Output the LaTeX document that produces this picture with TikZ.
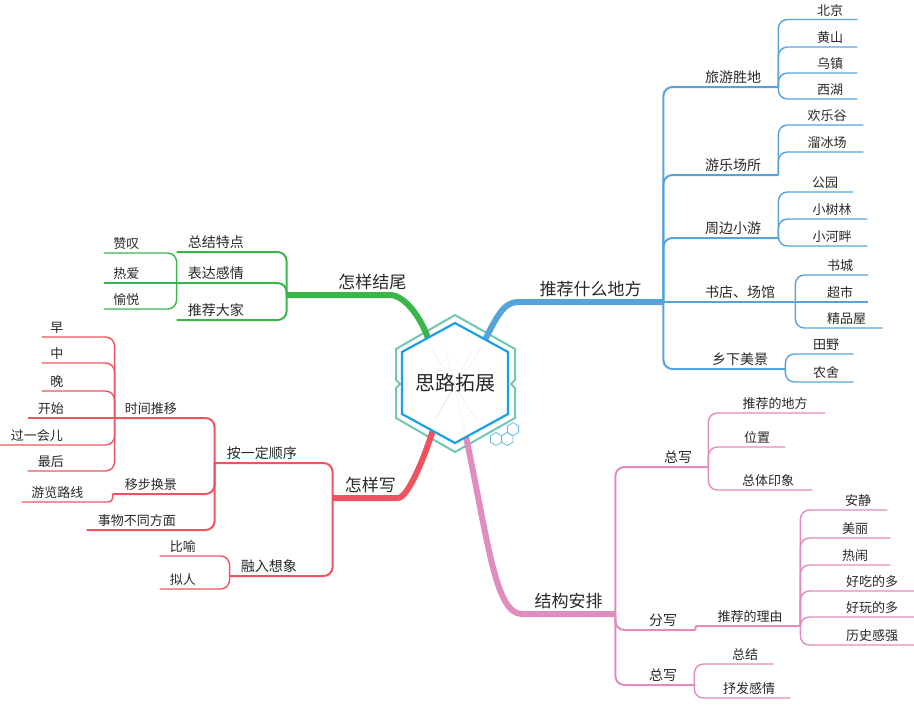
\documentclass[tikz,border=0pt]{standalone}
\usepackage{fontspec}
\setmainfont{Noto Sans CJK SC}
\usepackage{tikz}
\definecolor{mapblue}{RGB}{84,164,219}
\definecolor{mapgreen}{RGB}{57,181,74}
\definecolor{mapred}{RGB}{238,84,96}
\definecolor{mappink}{RGB}{225,140,190}
\definecolor{hexteal}{RGB}{112,200,178}
\definecolor{hexblue}{RGB}{28,160,226}
\definecolor{hexlight}{RGB}{110,185,235}
\definecolor{inkgray}{RGB}{40,40,40}
\newcommand{\leaffont}{\fontsize{13}{15}\selectfont}
\newcommand{\twigfont}{\fontsize{14}{16}\selectfont}
\newcommand{\trunkfont}{\fontsize{17}{19}\selectfont}
\newcommand{\rootfont}{\fontsize{20}{22}\selectfont}

\begin{document}
\begin{tikzpicture}[x=1pt,y=-1pt,
    rn/.style={anchor=south west,inner xsep=0pt,inner ysep=3pt,font=\leaffont,text=inkgray},
    ln/.style={anchor=south east,inner xsep=0pt,inner ysep=3pt,font=\leaffont,text=inkgray},
    pr/.style={execute at begin node={\hspace*{#1}}},
    pl/.style={execute at end node={\hspace*{#1}}},
    trunk/.style={line width=6pt},
    twig/.style={line width=2pt,rounded corners=9pt},
    leaf/.style={line width=1.4pt,rounded corners=9pt}]

    \useasboundingbox (0,0) rectangle (914,710);

    % Recommend places (blue, top right)
    \node[rn,minimum width=145pt,font=\trunkfont,inner ysep=5pt] (bx) at (518,302) {推荐什么地方};
    \node[rn,minimum width=115pt,pr=25pt,font=\twigfont] (ly) at (663,87) {旅游胜地};
    \node[rn,minimum width=115pt,pr=25pt,font=\twigfont] (yl) at (663,175) {游乐场所};
    \node[rn,minimum width=115pt,pr=25pt,font=\twigfont] (zb) at (663,238) {周边小游};
    \node[rn,minimum width=132pt,pr=22pt,font=\twigfont] (sd) at (663,302) {书店、场馆};
    \node[rn,minimum width=122pt,pr=32pt,font=\twigfont] (xx) at (663,369) {乡下美景};
    \node[rn,minimum width=79pt,pr=25pt] (bj) at (778,19.5) {北京};
    \node[rn,minimum width=79pt,pr=25pt] (hsh) at (778,47) {黄山};
    \node[rn,minimum width=79pt,pr=25pt] (wz) at (778,73) {乌镇};
    \node[rn,minimum width=79pt,pr=25pt] (xh) at (778,99) {西湖};
    \node[rn,minimum width=85pt,pr=13pt] (hlg) at (778,125) {欢乐谷};
    \node[rn,minimum width=85pt,pr=13pt] (lbc) at (778,152) {溜冰场};
    \node[rn,minimum width=75pt,pr=19pt] (gy) at (778,192) {公园};
    \node[rn,minimum width=89pt,pr=19pt] (xsl) at (778,219) {小树林};
    \node[rn,minimum width=89pt,pr=19pt] (xhp) at (778,246) {小河畔};
    \node[rn,minimum width=73pt,pr=17pt] (shc) at (795,275) {书城};
    \node[rn,minimum width=73pt,pr=17pt] (cs) at (795,302) {超市};
    \node[rn,minimum width=87pt,pr=16pt] (jpw) at (795,328) {精品屋};
    \node[rn,minimum width=68pt,pr=14pt] (ty) at (785,354) {田野};
    \node[rn,minimum width=68pt,pr=14pt] (ns) at (785,382) {农舍};

    % How to end (green, top left)
    \node[ln,minimum width=103pt,font=\trunkfont,inner ysep=5pt] (gx) at (390,295) {\rlap{怎样结尾}};
    \node[ln,minimum width=110pt,pl=32pt,font=\twigfont] (zj) at (287,252) {总结特点};
    \node[ln,minimum width=110pt,pl=32pt,font=\twigfont] (bd) at (287,283) {表达感情};
    \node[ln,minimum width=110pt,pl=32pt,font=\twigfont] (tj) at (287,320) {推荐大家};
    \node[ln,minimum width=73pt,pl=28pt] (zt) at (177,253) {赞叹};
    \node[ln,minimum width=73pt,pl=28pt] (ra) at (177,283) {热爱};
    \node[ln,minimum width=73pt,pl=28pt] (yy) at (177,309) {愉悦};

    % How to write (red, bottom left)
    \node[ln,minimum width=65pt,pr=10pt,font=\trunkfont,inner ysep=5pt] (w) at (398,498) {怎样写};
    \node[ln,minimum width=118pt,pl=24pt,font=\twigfont] (ax) at (333,463) {按一定顺序};
    \node[ln,minimum width=103pt,pl=25pt,font=\twigfont] (rr) at (333,576) {融入想象};
    \node[ln,minimum width=100pt,pl=28pt] (sj) at (215,418) {时间推移};
    \node[ln,minimum width=102pt,pl=26pt] (yb) at (215,494) {移步换景};
    \node[ln,minimum width=128pt,pl=28pt] (swb) at (215,530) {事物不同方面};
    \node[ln,minimum width=73pt,pl=43pt] (zao) at (115,337) {早};
    \node[ln,minimum width=73pt,pl=43pt] (zh) at (115,363) {中};
    \node[ln,minimum width=73pt,pl=43pt] (wan) at (115,391) {晚};
    \node[ln,minimum width=87pt,pl=41pt] (ks) at (115,418) {开始};
    \node[ln,minimum width=115pt,pl=41pt] (gyh) at (115,445) {过一会儿};
    \node[ln,minimum width=87pt,pl=41pt] (zhh) at (115,471) {最后};
    \node[ln,minimum width=91pt,pl=20pt] (ylx) at (113,502) {游览路线};
    \node[ln,minimum width=70pt,pl=24pt] (by) at (230,556) {比喻};
    \node[ln,minimum width=70pt,pl=24pt] (nr) at (230,589) {拟人};

    % Structure (pink, bottom right)
    \node[rn,minimum width=93pt,font=\trunkfont,inner ysep=5pt] (s) at (522,614) {结构安排};
    \node[rn,minimum width=93pt,pr=33pt,font=\twigfont] (zx) at (615,467) {总写};
    \node[rn,minimum width=80pt,pr=16pt,font=\twigfont] (fx) at (615,630) {分写};
    \node[rn,minimum width=79pt,pr=17pt,font=\twigfont] (zxb) at (615,685) {总写};
    \node[rn,minimum width=117pt,pr=17pt] (tjd) at (708,413) {推荐的地方};
    \node[rn,minimum width=77pt,pr=21pt] (wzh) at (708,447) {位置};
    \node[rn,minimum width=104pt,pr=16pt] (ztyx) at (708,490) {总体印象};
    \node[rn,minimum width=105pt,pr=5pt] (tjl) at (695,626) {推荐的理由};
    \node[rn,minimum width=87pt,pr=29pt] (aj) at (800,510) {安静};
    \node[rn,minimum width=90pt,pr=20pt] (ml) at (800,538) {美丽};
    \node[rn,minimum width=90pt,pr=20pt] (rnao) at (800,565) {热闹};
    \node[rn,minimum width=114pt,pr=30pt] (hcd) at (800,591) {好吃的多};
    \node[rn,minimum width=114pt,pr=30pt] (hwd) at (800,617) {好玩的多};
    \node[rn,minimum width=114pt,pr=30pt] (lsg) at (800,645) {历史感强};
    \node[rn,minimum width=79pt,pr=23pt] (zjb) at (694,664) {总结};
    \node[rn,minimum width=96pt,pr=14pt] (sfgq) at (694,698) {抒发感情};

    % Branch lines
    \foreach \n in {ly,yl,zb,xx} \draw[mapblue,twig] (bx.south east) |- (\n.south east);
    \draw[mapblue,twig] (bx.south east) -- (sd.south east);
    \foreach \n in {bj,hsh,wz,xh} \draw[mapblue,leaf] (ly.south east) |- (\n.south east);
    \foreach \n in {hlg,lbc} \draw[mapblue,leaf] (yl.south east) |- (\n.south east);
    \foreach \n in {gy,xsl,xhp} \draw[mapblue,leaf] (zb.south east) |- (\n.south east);
    \foreach \n in {shc,jpw} \draw[mapblue,leaf] (sd.south east) |- (\n.south east);
    \draw[mapblue,leaf] (sd.south east) -- (cs.south east);
    \foreach \n in {ty,ns} \draw[mapblue,leaf] (xx.south east) |- (\n.south east);

    \foreach \n in {zj,bd,tj} \draw[mapgreen,twig] (gx.south west) |- (\n.south west);
    \foreach \n in {zt,yy} \draw[mapgreen,leaf] (bd.south west) |- (\n.south west);
    \draw[mapgreen,leaf] (bd.south west) -- (ra.south west);

    \foreach \n in {ax,rr} \draw[mapred,twig] (w.south west) |- (\n.south west);
    \foreach \n in {sj,yb,swb} \draw[mapred,twig] (ax.south west) |- (\n.south west);
    \foreach \n in {zao,zh,wan,gyh,zhh} \draw[mapred,leaf] (sj.south west) |- (\n.south west);
    \draw[mapred,leaf] (sj.south west) -- (ks.south west);
    \draw[mapred,leaf,rounded corners=4pt] (yb.south west) |- (ylx.south west);
    \foreach \n in {by,nr} \draw[mapred,leaf] (rr.south west) |- (\n.south west);

    \foreach \n in {zx,fx,zxb} \draw[mappink,twig] (s.south east) |- (\n.south east);
    \foreach \n in {tjd,wzh,ztyx} \draw[mappink,leaf] (zx.south east) |- (\n.south east);
    \draw[mappink,twig,rounded corners=2pt] (fx.south east) |- (tjl.south east);
    \foreach \n in {aj,ml,rnao,hcd,hwd,lsg} \draw[mappink,leaf] (tjl.south east) |- (\n.south east);
    \foreach \n in {zjb,sfgq} \draw[mappink,leaf] (zxb.south east) |- (\n.south east);

    % Central hexagon
    \draw[hexteal,line width=2pt] (455,315) -- (515,349) -- (515,380) -- (511,384) -- (515,388) -- (515,418) -- (455,452) -- (396,418) -- (396,388) -- (400,384) -- (396,380) -- (396,349) -- cycle;

    \coordinate (hg) at (431,348);
    \coordinate (hb) at (482,346);
    \coordinate (hr) at (436,420);
    \coordinate (hp) at (465,432);
    \draw[mapgreen,trunk] (hg) .. controls (424,320) and (405,295) .. (gx.south east) -- (gx.south west);
    \draw[mapblue,trunk] (hb) .. controls (496,318) and (503,302) .. (bx.south west) -- (bx.south east);
    \draw[mapred,trunk] (hr) .. controls (426,455) and (408,498) .. (w.south east) -- (w.south west);
    \draw[mappink,trunk] (hp) .. controls (488,540) and (495,614) .. (s.south west) -- (s.south east);

    \filldraw[fill=white,draw=hexblue,line width=2.2pt] (455,323) -- (508,352) -- (508,414) -- (455,443) -- (402,414) -- (402,352) -- cycle;
    \draw[mapgreen,opacity=0.2,line width=0.4pt] (hg) -- (476,420);
    \draw[mapblue,opacity=0.2,line width=0.4pt] (hb) -- (434,420);
    \draw[mapred,opacity=0.2,line width=0.4pt] (hr) -- (472,350);
    \draw[mappink,opacity=0.2,line width=0.4pt] (hp) -- (446,350);
    \node[font=\rootfont,text=inkgray] (c) at (455,383) {思路拓展};

    \foreach \hx/\hy in {496/439,507.3/439,513/429.2}
      \draw[hexlight,line width=0.8pt] (\hx,\hy) +(90:6.5) -- +(150:6.5) -- +(210:6.5) -- +(270:6.5) -- +(330:6.5) -- +(30:6.5) -- cycle;
\end{tikzpicture}
\end{document}
